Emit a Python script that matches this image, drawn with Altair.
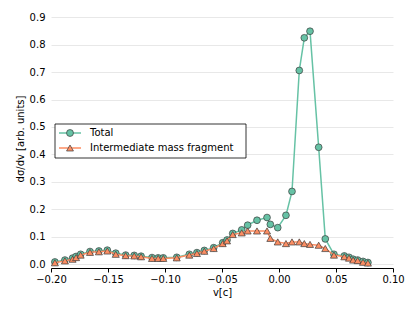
import altair as alt
import pandas as pd

# velocity bins (v[c])
v = [-0.1966, -0.1878, -0.1811, -0.178, -0.174, -0.1658, -0.158, -0.1506, -0.1432, -0.1345,
     -0.127, -0.121, -0.1114, -0.106, -0.1015, -0.0897, -0.0787, -0.072, -0.0655, -0.0573,
     -0.0494, -0.0456, -0.0406, -0.0327, -0.0275, -0.0193, -0.0105, -0.0076, -0.0011, 0.0061,
     0.0114, 0.0178, 0.0222, 0.0272, 0.0348, 0.0406, 0.0482, 0.0573, 0.0614, 0.065,
     0.069, 0.0737, 0.078]

total = [0.008, 0.015, 0.022, 0.028, 0.036, 0.046, 0.048, 0.051, 0.040, 0.033,
         0.032, 0.029, 0.024, 0.023, 0.023, 0.025, 0.036, 0.042, 0.050, 0.060,
         0.078, 0.088, 0.112, 0.125, 0.142, 0.160, 0.170, 0.145, 0.133, 0.178,
         0.265, 0.706, 0.825, 0.849, 0.426, 0.092, 0.036, 0.030, 0.025, 0.018,
         0.015, 0.010, 0.006]

imf = [0.005, 0.012, 0.018, 0.024, 0.033, 0.043, 0.045, 0.048, 0.036, 0.031,
       0.030, 0.027, 0.021, 0.021, 0.021, 0.023, 0.033, 0.039, 0.047, 0.057,
       0.075, 0.085, 0.108, 0.114, 0.121, 0.121, 0.121, 0.094, 0.081, 0.075,
       0.081, 0.081, 0.075, 0.072, 0.069, 0.057, 0.033, 0.027, 0.022, 0.015,
       0.013, 0.007, 0.004]

series_names = ["Total", "Intermediate mass fragment"]
colors = ["#66c2a5", "#fc8d62"]
x_ticks = [-0.2, -0.15, -0.1, -0.05, 0.0, 0.05, 0.1]
y_ticks = [0.0, 0.1, 0.2, 0.3, 0.4, 0.5, 0.6, 0.7, 0.8, 0.9]

df = pd.DataFrame({"v": v, "total": total, "imf": imf})
one = pd.DataFrame({"i": [0]})

FONT = "DejaVu Sans"
EDGE = "#3c3c3c"

xscale = alt.Scale(domain=[-0.2, 0.1], nice=False, zero=False)
yscale = alt.Scale(domain=[-0.014, 0.93], nice=False, zero=False)

x_axis = alt.Axis(values=x_ticks, format=".2f", title="v[c]", grid=False,
                  labelExpr="replace(datum.label, '-', '\u2212')",
                  labelFlush=False, labelOverlap=False,
                  domainColor="black", domainWidth=1, tickColor="black", tickSize=4,
                  labelFontSize=10, titleFontSize=10, labelColor="black", titleColor="black",
                  titleFontWeight="normal", labelPadding=2, titlePadding=3,
                  labelFont=FONT, titleFont=FONT)
y_axis = alt.Axis(values=y_ticks, format=".1f", title="d\u03c3/dv [arb. units]", grid=True,
                  labelFlush=False, labelOverlap=False,
                  gridColor="#e8e8e8", gridWidth=1, domain=False, ticks=False,
                  labelFontSize=10, titleFontSize=10, labelColor="black", titleColor="black",
                  titleFontWeight="normal", labelPadding=6, titlePadding=4,
                  labelFont=FONT, titleFont=FONT)

base = alt.Chart(df)
X = alt.X("v:Q", scale=xscale, axis=x_axis)

total_line = base.mark_line(color=colors[0], strokeWidth=1.5).encode(
    x=X, y=alt.Y("total:Q", scale=yscale, axis=y_axis))
total_pts = base.mark_point(shape="circle", fill=colors[0], stroke=EDGE, strokeWidth=0.7,
                            size=46, opacity=1, fillOpacity=1).encode(
    x=X, y=alt.Y("total:Q", scale=yscale, axis=y_axis))
imf_line = base.mark_line(color=colors[1], strokeWidth=1.5).encode(
    x=X, y=alt.Y("imf:Q", scale=yscale, axis=y_axis))
imf_pts = base.mark_point(shape="triangle-up", fill=colors[1], stroke=EDGE, strokeWidth=0.7,
                          size=50, opacity=1, fillOpacity=1).encode(
    x=X, y=alt.Y("imf:Q", scale=yscale, axis=y_axis))

# manual legend (line + marker symbols, like the reference)
leg = alt.Chart(one)
box = leg.mark_rect(fill="white", stroke="black", strokeWidth=0.8).encode(
    x=alt.value(4), x2=alt.value(195), y=alt.value(115), y2=alt.value(149))
legend_layers = [box]
shapes = ["circle", "triangle-up"]
rows = [124, 139]
for name, col, shp, yy in zip(series_names, colors, shapes, rows):
    legend_layers.append(leg.mark_rule(color=col, strokeWidth=1.5).encode(
        x=alt.value(8), x2=alt.value(30), y=alt.value(yy)))
    legend_layers.append(leg.mark_point(shape=shp, fill=col, stroke=EDGE, strokeWidth=0.7,
                                        size=48, opacity=1, fillOpacity=1).encode(
        x=alt.value(19), y=alt.value(yy)))
    legend_layers.append(leg.mark_text(align="left", baseline="middle", fontSize=10,
                                       font=FONT, color="black").encode(
        x=alt.value(39), y=alt.value(yy), text=alt.value(name)))

chart = alt.layer(total_line, total_pts, imf_line, imf_pts, *legend_layers).properties(
    width=342, height=259,
    autosize=alt.AutoSizeParams(type="none"),
    padding={"left": 43, "top": 1, "right": 14, "bottom": 40},
).configure_view(strokeWidth=0)

chart.save("out.html", embed_options={"renderer": "svg", "actions": False})
